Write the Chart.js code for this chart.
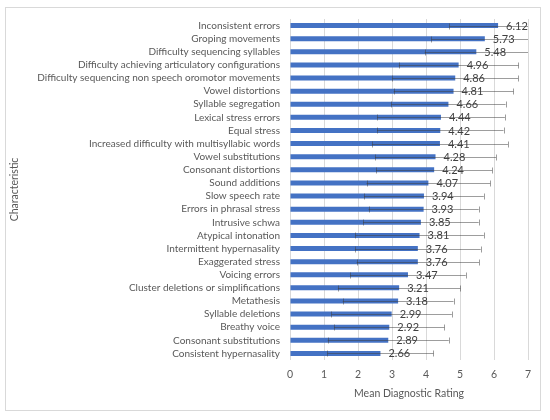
<!DOCTYPE html>
<html>
<head>
<meta charset="utf-8">
<script src="https://cdn.jsdelivr.net/npm/chart.js@4"></script>
<style>
html,body{margin:0;padding:0;background:#fff;}
#wrap{position:absolute;left:0;top:0;width:550px;height:420px;}
#frame{position:absolute;left:5px;top:7px;width:536px;height:404px;border:1px solid #d9d9d9;box-sizing:border-box;}
canvas{position:absolute;left:0;top:0;}
</style>
</head>
<body>
<div id="wrap"><div id="frame"></div><canvas id="c" width="550" height="420"></canvas></div>
<script>
const categories = [
  "Inconsistent errors",
  "Groping movements",
  "Difficulty sequencing syllables",
  "Difficulty achieving articulatory configurations",
  "Difficulty sequencing non speech oromotor movements",
  "Vowel distortions",
  "Syllable segregation",
  "Lexical stress errors",
  "Equal stress",
  "Increased difficulty with multisyllabic words",
  "Vowel substitutions",
  "Consonant distortions",
  "Sound additions",
  "Slow speech rate",
  "Errors in phrasal stress",
  "Intrusive schwa",
  "Atypical intonation",
  "Intermittent hypernasality",
  "Exaggerated stress",
  "Voicing errors",
  "Cluster deletions or simplifications",
  "Metathesis",
  "Syllable deletions",
  "Breathy voice",
  "Consonant substitutions",
  "Consistent hypernasality"
];
const means = [6.12,5.73,5.48,4.96,4.86,4.81,4.66,4.44,4.42,4.41,4.28,4.24,4.07,3.94,3.93,3.85,3.81,3.76,3.76,3.47,3.21,3.18,2.99,2.92,2.89,2.66];
const sds = [1.43,1.57,1.52,1.76,1.85,1.76,1.68,1.88,1.86,2.00,1.78,1.71,1.82,1.76,1.62,1.70,1.89,1.85,1.80,1.70,1.80,1.63,1.77,1.62,1.78,1.56];
const xTicks = [0,1,2,3,4,5,6,7];

const FONT = "Lato";
const errorBarPlugin = {
  id: 'errbars',
  afterDatasetsDraw(chart) {
    const ctx = chart.ctx, xs = chart.scales.x, ys = chart.scales.y, a = chart.chartArea;
    ctx.save();
    ctx.beginPath();
    ctx.rect(a.left, a.top - 2, a.right - a.left, a.bottom - a.top + 4);
    ctx.clip();
    ctx.strokeStyle = 'rgba(60,60,60,0.5)';
    ctx.lineWidth = 1;
    means.forEach((m, i) => {
      const y = Math.round(ys.getPixelForValue(i)) + 0.5;
      const x1 = xs.getPixelForValue(m - sds[i]);
      const x2 = xs.getPixelForValue(m + sds[i]);
      ctx.beginPath();
      ctx.moveTo(x1, y); ctx.lineTo(x2, y);
      ctx.moveTo(Math.round(x1)+0.5, y - 3); ctx.lineTo(Math.round(x1)+0.5, y + 3);
      ctx.moveTo(Math.round(x2)+0.5, y - 3); ctx.lineTo(Math.round(x2)+0.5, y + 3);
      ctx.stroke();
    });
    ctx.restore();
    ctx.save();
    ctx.fillStyle = '#404040';
    ctx.font = '11px ' + FONT;
    ctx.textBaseline = 'middle';
    ctx.textAlign = 'left';
    means.forEach((m, i) => {
      const y = ys.getPixelForValue(i);
      ctx.fillText(m.toFixed(2), xs.getPixelForValue(m) + 8, y + 0.5);
    });
    ctx.restore();
  }
};

new Chart(document.getElementById('c'), {
  type: 'bar',
  data: {
    labels: categories,
    datasets: [{
      data: means,
      backgroundColor: '#4472C4',
      borderWidth: 0,
      barPercentage: 0.38,
      categoryPercentage: 1.0
    }]
  },
  options: {
    indexAxis: 'y',
    responsive: false,
    animation: false,
    devicePixelRatio: 1,
    layout: { padding: { top: 19, right: 22, bottom: 20, left: 8 } },
    plugins: { legend: { display: false }, tooltip: { enabled: false } },
    scales: {
      x: {
        min: 0, max: 7,
        afterBuildTicks(scale) { scale.ticks = xTicks.map(v => ({ value: v })); },
        grid: { color: '#d9d9d9', drawTicks: false },
        border: { display: false },
        ticks: { color: '#595959', font: { family: FONT, size: 10.5 }, padding: 8 },
        title: { display: true, text: 'Mean Diagnostic Rating', color: '#595959', font: { family: FONT, size: 10.5 }, padding: { top: 2, bottom: 0 } },
        afterFit(scale) { scale.height = 40; }
      },
      y: {
        grid: { display: false },
        border: { display: false },
        ticks: { color: '#595959', font: { family: FONT, size: 10 }, padding: 2, autoSkip: false },
        title: { display: true, text: 'Characteristic', color: '#595959', font: { family: FONT, size: 10.5 }, padding: 0 },
        afterFit(scale) { scale.width = 282; }
      }
    }
  },
  plugins: [errorBarPlugin]
});
</script>
</body>
</html>
